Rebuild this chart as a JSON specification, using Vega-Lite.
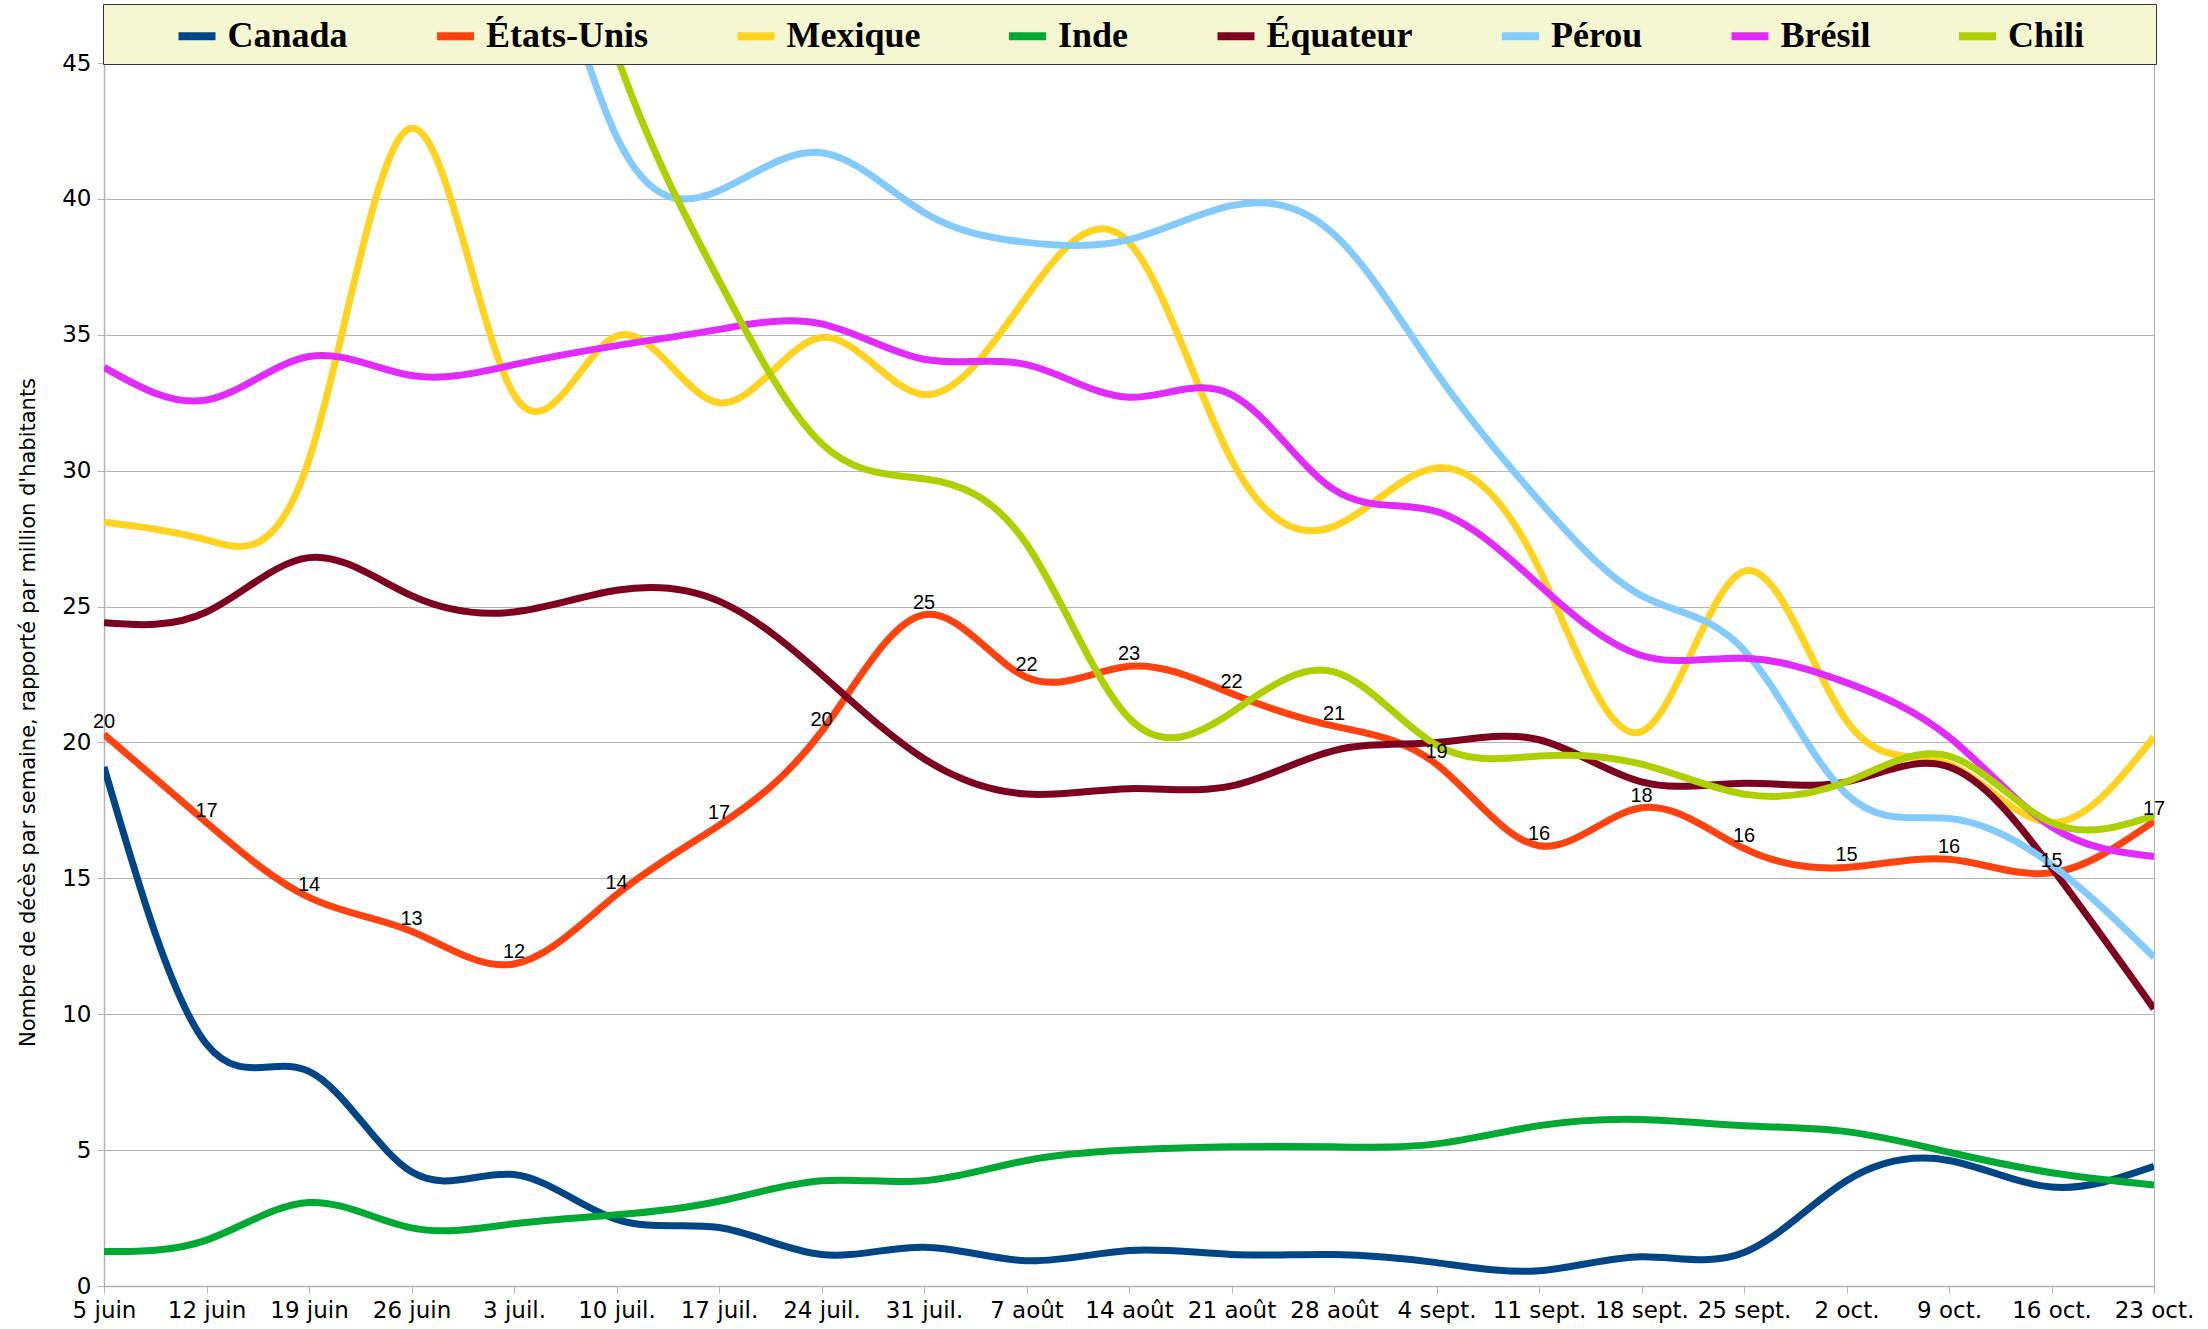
{
  "$schema": "https://vega.github.io/schema/vega-lite/v6.json",
  "width": 2050,
  "height": 1223,
  "autosize": {"type": "none"},
  "padding": {"left": 104, "top": 63, "right": 54, "bottom": 43},
  "background": "white",
  "config": {
    "view": {"stroke": "#b3b3b3", "strokeWidth": 1},
    "font": "DejaVu Sans"
  },
  "data": {"values": [
    {"s":"5 juin","p":"Canada","v":19.1},{"s":"12 juin","p":"Canada","v":8.9},{"s":"19 juin","p":"Canada","v":7.9},{"s":"26 juin","p":"Canada","v":4.2},{"s":"3 juil.","p":"Canada","v":4.1},{"s":"10 juil.","p":"Canada","v":2.45},{"s":"17 juil.","p":"Canada","v":2.15},{"s":"24 juil.","p":"Canada","v":1.16},{"s":"31 juil.","p":"Canada","v":1.43},{"s":"7 août","p":"Canada","v":0.93},{"s":"14 août","p":"Canada","v":1.31},{"s":"21 août","p":"Canada","v":1.16},{"s":"28 août","p":"Canada","v":1.16},{"s":"4 sept.","p":"Canada","v":0.86},{"s":"11 sept.","p":"Canada","v":0.56},{"s":"18 sept.","p":"Canada","v":1.08},{"s":"25 sept.","p":"Canada","v":1.23},{"s":"2 oct.","p":"Canada","v":3.87},{"s":"9 oct.","p":"Canada","v":4.62},{"s":"16 oct.","p":"Canada","v":3.64},{"s":"23 oct.","p":"Canada","v":4.4},
    {"s":"5 juin","p":"États-Unis","v":20.3},{"s":"12 juin","p":"États-Unis","v":17.05},{"s":"19 juin","p":"États-Unis","v":14.3},{"s":"26 juin","p":"États-Unis","v":13.05},{"s":"3 juil.","p":"États-Unis","v":11.85},{"s":"10 juil.","p":"États-Unis","v":14.4},{"s":"17 juil.","p":"États-Unis","v":16.95},{"s":"24 juil.","p":"États-Unis","v":20.4},{"s":"31 juil.","p":"États-Unis","v":24.7},{"s":"7 août","p":"États-Unis","v":22.4},{"s":"14 août","p":"États-Unis","v":22.8},{"s":"21 août","p":"États-Unis","v":21.8},{"s":"28 août","p":"États-Unis","v":20.6},{"s":"4 sept.","p":"États-Unis","v":19.2},{"s":"11 sept.","p":"États-Unis","v":16.2},{"s":"18 sept.","p":"États-Unis","v":17.6},{"s":"25 sept.","p":"États-Unis","v":16.1},{"s":"2 oct.","p":"États-Unis","v":15.4},{"s":"9 oct.","p":"États-Unis","v":15.7},{"s":"16 oct.","p":"États-Unis","v":15.2},{"s":"23 oct.","p":"États-Unis","v":17.1},
    {"s":"5 juin","p":"Mexique","v":28.1},{"s":"12 juin","p":"Mexique","v":27.45},{"s":"19 juin","p":"Mexique","v":30.4},{"s":"26 juin","p":"Mexique","v":42.6},{"s":"3 juil.","p":"Mexique","v":32.8},{"s":"10 juil.","p":"Mexique","v":34.95},{"s":"17 juil.","p":"Mexique","v":32.5},{"s":"24 juil.","p":"Mexique","v":34.9},{"s":"31 juil.","p":"Mexique","v":32.8},{"s":"7 août","p":"Mexique","v":36.4},{"s":"14 août","p":"Mexique","v":38.4},{"s":"21 août","p":"Mexique","v":30.4},{"s":"28 août","p":"Mexique","v":27.95},{"s":"4 sept.","p":"Mexique","v":30.1},{"s":"11 sept.","p":"Mexique","v":26.4},{"s":"18 sept.","p":"Mexique","v":20.4},{"s":"25 sept.","p":"Mexique","v":26.3},{"s":"2 oct.","p":"Mexique","v":20.8},{"s":"9 oct.","p":"Mexique","v":19.2},{"s":"16 oct.","p":"Mexique","v":17.05},{"s":"23 oct.","p":"Mexique","v":20.2},
    {"s":"5 juin","p":"Inde","v":1.27},{"s":"12 juin","p":"Inde","v":1.69},{"s":"19 juin","p":"Inde","v":3.07},{"s":"26 juin","p":"Inde","v":2.14},{"s":"3 juil.","p":"Inde","v":2.29},{"s":"10 juil.","p":"Inde","v":2.62},{"s":"17 juil.","p":"Inde","v":3.12},{"s":"24 juil.","p":"Inde","v":3.87},{"s":"31 juil.","p":"Inde","v":3.87},{"s":"7 août","p":"Inde","v":4.62},{"s":"14 août","p":"Inde","v":5.0},{"s":"21 août","p":"Inde","v":5.12},{"s":"28 août","p":"Inde","v":5.12},{"s":"4 sept.","p":"Inde","v":5.23},{"s":"11 sept.","p":"Inde","v":5.9},{"s":"18 sept.","p":"Inde","v":6.13},{"s":"25 sept.","p":"Inde","v":5.9},{"s":"2 oct.","p":"Inde","v":5.68},{"s":"9 oct.","p":"Inde","v":4.92},{"s":"16 oct.","p":"Inde","v":4.17},{"s":"23 oct.","p":"Inde","v":3.72},
    {"s":"5 juin","p":"Équateur","v":24.4},{"s":"12 juin","p":"Équateur","v":24.8},{"s":"19 juin","p":"Équateur","v":26.8},{"s":"26 juin","p":"Équateur","v":25.4},{"s":"3 juil.","p":"Équateur","v":24.8},{"s":"10 juil.","p":"Équateur","v":25.6},{"s":"17 juil.","p":"Équateur","v":25.2},{"s":"24 juil.","p":"Équateur","v":22.5},{"s":"31 juil.","p":"Équateur","v":19.4},{"s":"7 août","p":"Équateur","v":18.1},{"s":"14 août","p":"Équateur","v":18.3},{"s":"21 août","p":"Équateur","v":18.4},{"s":"28 août","p":"Équateur","v":19.7},{"s":"4 sept.","p":"Équateur","v":20.0},{"s":"11 sept.","p":"Équateur","v":20.1},{"s":"18 sept.","p":"Équateur","v":18.55},{"s":"25 sept.","p":"Équateur","v":18.5},{"s":"2 oct.","p":"Équateur","v":18.55},{"s":"9 oct.","p":"Équateur","v":19.1},{"s":"16 oct.","p":"Équateur","v":15.4},{"s":"23 oct.","p":"Équateur","v":10.2},
    {"s":"5 juin","p":"Pérou","v":52},{"s":"12 juin","p":"Pérou","v":55},{"s":"19 juin","p":"Pérou","v":57},{"s":"26 juin","p":"Pérou","v":56},{"s":"3 juil.","p":"Pérou","v":53},{"s":"10 juil.","p":"Pérou","v":42.3},{"s":"17 juil.","p":"Pérou","v":40.3},{"s":"24 juil.","p":"Pérou","v":41.7},{"s":"31 juil.","p":"Pérou","v":39.5},{"s":"7 août","p":"Pérou","v":38.4},{"s":"14 août","p":"Pérou","v":38.5},{"s":"21 août","p":"Pérou","v":39.75},{"s":"28 août","p":"Pérou","v":38.7},{"s":"4 sept.","p":"Pérou","v":33.6},{"s":"11 sept.","p":"Pérou","v":28.9},{"s":"18 sept.","p":"Pérou","v":25.4},{"s":"25 sept.","p":"Pérou","v":23.4},{"s":"2 oct.","p":"Pérou","v":18.1},{"s":"9 oct.","p":"Pérou","v":17.2},{"s":"16 oct.","p":"Pérou","v":15.5},{"s":"23 oct.","p":"Pérou","v":12.1},
    {"s":"5 juin","p":"Brésil","v":33.8},{"s":"12 juin","p":"Brésil","v":32.6},{"s":"19 juin","p":"Brésil","v":34.2},{"s":"26 juin","p":"Brésil","v":33.5},{"s":"3 juil.","p":"Brésil","v":33.9},{"s":"10 juil.","p":"Brésil","v":34.6},{"s":"17 juil.","p":"Brésil","v":35.2},{"s":"24 juil.","p":"Brésil","v":35.4},{"s":"31 juil.","p":"Brésil","v":34.1},{"s":"7 août","p":"Brésil","v":33.9},{"s":"14 août","p":"Brésil","v":32.7},{"s":"21 août","p":"Brésil","v":32.8},{"s":"28 août","p":"Brésil","v":29.3},{"s":"4 sept.","p":"Brésil","v":28.5},{"s":"11 sept.","p":"Brésil","v":25.8},{"s":"18 sept.","p":"Brésil","v":23.2},{"s":"25 sept.","p":"Brésil","v":23.1},{"s":"2 oct.","p":"Brésil","v":22.2},{"s":"9 oct.","p":"Brésil","v":20.2},{"s":"16 oct.","p":"Brésil","v":16.9},{"s":"23 oct.","p":"Brésil","v":15.8},
    {"s":"5 juin","p":"Chili","v":50},{"s":"12 juin","p":"Chili","v":62},{"s":"19 juin","p":"Chili","v":75},{"s":"26 juin","p":"Chili","v":70},{"s":"3 juil.","p":"Chili","v":58},{"s":"10 juil.","p":"Chili","v":45.3},{"s":"17 juil.","p":"Chili","v":37.0},{"s":"24 juil.","p":"Chili","v":31.0},{"s":"31 juil.","p":"Chili","v":29.7},{"s":"7 août","p":"Chili","v":27.3},{"s":"14 août","p":"Chili","v":20.9},{"s":"21 août","p":"Chili","v":21.1},{"s":"28 août","p":"Chili","v":22.6},{"s":"4 sept.","p":"Chili","v":19.9},{"s":"11 sept.","p":"Chili","v":19.5},{"s":"18 sept.","p":"Chili","v":19.2},{"s":"25 sept.","p":"Chili","v":18.1},{"s":"2 oct.","p":"Chili","v":18.55},{"s":"9 oct.","p":"Chili","v":19.5},{"s":"16 oct.","p":"Chili","v":17.05},{"s":"23 oct.","p":"Chili","v":17.3}
  ]},
  "encoding": {
    "x": {
      "field": "s", "type": "ordinal",
      "scale": {"type": "point", "padding": 0, "domain": ["5 juin","12 juin","19 juin","26 juin","3 juil.","10 juil.","17 juil.","24 juil.","31 juil.","7 août","14 août","21 août","28 août","4 sept.","11 sept.","18 sept.","25 sept.","2 oct.","9 oct.","16 oct.","23 oct."]},
      "axis": {"title": null, "labelAngle": 0, "labelFont": "DejaVu Sans", "labelFontSize": 23, "labelColor": "#000000", "labelPadding": 6, "tickSize": 7, "tickColor": "#b3b3b3", "domainColor": "#b3b3b3", "domainWidth": 1.5, "grid": false, "labelOverlap": false}
    },
    "y": {
      "field": "v", "type": "quantitative",
      "scale": {"domain": [0, 45], "nice": false},
      "axis": {"title": "Nombre de décès par semaine, rapporté par million d'habitants", "values": [0,5,10,15,20,25,30,35,40,45], "labelFont": "DejaVu Sans", "labelFontSize": 23, "labelColor": "#000000", "labelPadding": 6, "tickSize": 7, "tickColor": "#b3b3b3", "domainColor": "#b3b3b3", "domainWidth": 1.5, "gridColor": "#b3b3b3", "gridWidth": 1, "titleFont": "DejaVu Sans", "titleFontSize": 21, "titleFontWeight": "normal", "titleColor": "#000000", "titleX": -76, "titleY": 649, "titleAngle": 270, "titleBaseline": "middle", "titleAlign": "center"}
    }
  },
  "layer": [
    {
      "mark": {"type": "line", "interpolate": "natural", "strokeWidth": 7, "clip": true},
      "encoding": {
        "color": {
          "field": "p", "type": "nominal",
          "scale": {"domain": ["Canada","États-Unis","Mexique","Inde","Équateur","Pérou","Brésil","Chili"], "range": ["#004586","#ff420e","#ffd320","#00a933","#7e0021","#83caff","#e22cff","#aecf00"]},
          "legend": {
            "orient": "none", "legendX": -1, "legendY": -59, "direction": "horizontal", "columns": 8,
            "title": "\u00a0", "titleOrient": "right", "titleFontSize": 1, "titlePadding": 62,
            "padding": 9.5, "fillColor": "#f5f7d3", "strokeColor": "#333333",
            "symbolOffset": 62, "columnPadding": 22.5, "symbolType": "stroke", "symbolSize": 1369, "symbolStrokeWidth": 8, "labelOffset": 8,
            "labelFont": "Liberation Serif", "labelFontWeight": "bold", "labelFontSize": 36, "labelColor": "#000000", "labelLimit": 0
          }
        }
      }
    },
    {
      "transform": [{"filter": "datum.p == 'États-Unis'"}],
      "mark": {"type": "text", "font": "Liberation Sans", "fontSize": 20, "color": "#000000", "baseline": "alphabetic", "align": "center", "dy": -6},
      "encoding": {"text": {"field": "v", "type": "quantitative", "format": ".0f"}}
    }
  ]
}
